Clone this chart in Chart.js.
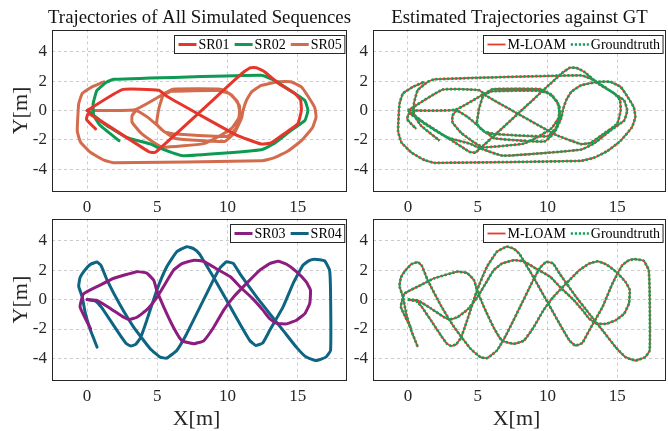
<!DOCTYPE html>
<html><head><meta charset="utf-8">
<script src="https://cdn.jsdelivr.net/npm/chart.js@4/dist/chart.umd.min.js"></script>
<style>
html,body{margin:0;padding:0;background:#fff;}
#wrap{position:relative;width:668px;height:431px;overflow:hidden;}
canvas{position:absolute;left:0;top:0;}
</style></head><body>
<div id="wrap">
<canvas id="c1" width="668" height="431"></canvas>
<canvas id="c2" width="668" height="431"></canvas>
<canvas id="c3" width="668" height="431"></canvas>
<canvas id="c4" width="668" height="431"></canvas>
</div>
<script>
// ---- tick labels ----
const xTicks = [0, 5, 10, 15];
const xTickLabels = ['0', '5', '10', '15'];
const yTicks = [-4, -2, 0, 2, 4];
const yTickLabels = ['-4', '-2', '0', '2', '4'];

// ---- trajectories (x, y in metres) ----
const sr01X = [0, 2.5, 5.1, 5.7, 10.6, 12.4, 13.1, 14.0, 15.0, 15.25, 15.2, 14.8, 13.6, 12.65, 12.05, 11.6, 11.0, 4.85, 4.4, 0.1, -0.05, 0.6];
const sr01Y = [0, 1.42, 1.38, 0.95, -1.65, -2.28, -2.2, -1.6, -0.9, 0, 0.7, 1.15, 1.85, 2.62, 2.9, 2.9, 2.5, -2.85, -2.8, -0.2, -0.6, -1.25];

const sr02X = [0, 0.45, 1.2, 2.8, 4.5, 5.0, 6.8, 12.4, 13.35, 14.5, 15.5, 15.72, 15.5, 14.8, 13.35, 12.4, 1.9, 1.4, 0.7, 0.43, 0.47, 0.94, 2.27];
const sr02Y = [0, -0.3, -0.9, -1.82, -2.27, -2.5, -3.07, -2.66, -2.23, -1.37, -0.68, 0, 0.68, 1.14, 2.05, 2.39, 2.12, 1.93, 1.37, 0.46, -0.34, -1.02, -2.05];

const sr05X = [0, 3.4, 5.5, 6.1, 9.5, 10.3, 10.85, 10.8, 10.3, 9.3, 8.3, 5.4, 4.8, 3.8, 3.2, 3.2, 3.5, 4.3, 5.1, 5.5, 6.3, 10.0, 10.6, 10.9, 10.7, 10.1, 9.3, 6.0, 5.4, 5.1, 4.95, 5.3, 6.3, 9.8, 10.5, 11.0, 11.1, 11.35, 11.7, 12.4, 13.6, 14.5, 15.25, 15.7, 16.2, 16.3, 16.05, 15.25, 14.3, 13.35, 12.4, 1.9, 1.2, 0.25, -0.47, -0.7, -0.6, -0.35, 0.35, 1.2];
const sr05Y = [0, 0.05, 1.15, 1.45, 1.45, 1.05, 0.3, -0.5, -1.2, -1.8, -2.25, -2.5, -2.2, -1.5, -0.8, -0.35, 0, -0.45, -1.1, -1.45, -1.6, -1.75, -1.2, -0.3, 0.6, 1.15, 1.35, 1.3, 1.0, 0.1, -0.9, -1.3, -1.9, -2.1, -1.5, -0.5, 0, 0.7, 1.25, 1.7, 1.95, 1.95, 1.6, 1.0, 0.2, -0.45, -1.15, -2.05, -2.75, -3.2, -3.42, -3.55, -3.37, -2.85, -2.15, -1.4, 0.45, 1.15, 1.6, 1.95];

const sr03X = [0, 0.7, 1.65, 2.6, 3.0, 3.55, 4.3, 5.0, 5.7, 6.15, 6.75, 7.6, 8.3, 9.2, 10.2, 10.9, 11.8, 12.5, 13.0, 13.5, 14.2, 14.9, 15.5, 15.85, 15.9, 15.6, 14.9, 14.2, 13.6, 13.0, 12.3, 11.35, 10.4, 9.7, 9.0, 8.3, 7.6, 6.75, 6.15, 5.45, 4.95, 4.75, 4.25, 3.55, 1.9, 0.95, -0.25, -0.5, 0.25];
const sr03Y = [0, -0.05, -0.6, -1.2, -1.35, -1.2, -0.65, 0.2, 1.3, 2.0, 2.45, 2.68, 2.6, 2.1, 1.55, 0.86, 0.05, -0.7, -1.3, -1.62, -1.65, -1.4, -0.95, -0.25, 0.65, 1.2, 1.9, 2.4, 2.6, 2.45, 2.0, 1.1, 0.15, -0.75, -1.9, -2.8, -3.0, -2.8, -1.9, -0.5, 0.65, 1.3, 1.8, 1.9, 1.45, 1.0, 0.4, -0.5, -2.0];

const sr04X = [0, 0.6, 1.0, 1.65, 2.36, 2.8, 3.1, 3.45, 3.8, 4.25, 4.96, 5.67, 6.38, 7.09, 7.6, 8.0, 8.27, 8.98, 9.93, 10.87, 11.58, 12.0, 12.5, 13.0, 13.95, 14.66, 15.37, 15.8, 16.2, 16.9, 17.26, 17.33, 17.33, 17.0, 16.31, 15.6, 14.89, 13.95, 13.0, 12.06, 10.87, 10.4, 9.93, 9.5, 8.98, 8.04, 7.09, 6.38, 5.67, 5.2, 4.49, 3.31, 2.36, 1.42, 1.0, 0.7, 0.25, -0.2, -0.5, -0.6, -0.35, -0.12, 0.24, 0.71];
const sr04Y = [0, -0.1, -0.5, -1.41, -2.43, -3.0, -3.15, -3.05, -2.6, -1.4, 0.64, 2.23, 3.25, 3.6, 3.45, 3.1, 2.68, 1.55, -0.05, -1.64, -2.78, -3.12, -2.95, -2.09, -0.5, 1.09, 2.34, 2.65, 2.75, 2.64, 2.0, 0.41, -3.46, -3.91, -4.14, -3.91, -3.23, -2.09, -0.96, 0.18, 1.77, 2.46, 2.57, 2.2, 1.32, -0.5, -2.32, -3.46, -3.98, -3.91, -3.34, -1.87, -0.39, 1.32, 2.3, 2.55, 2.4, 1.95, 1.5, 0.91, 0.18, -0.96, -2.09, -3.23];

// ---- styling ----
const SERIF = "'Liberation Serif','Times New Roman',Times,serif";
const C = {sr01:'#e6352b', sr02:'#0e9a52', sr05:'#d36c4c', sr03:'#8c1c80', sr04:'#0d6483', est:'#e8382c', gt:'#12a158'};
const GT_DASH = [2.2, 1.8];

function pts(xs, ys) { return xs.map((x, i) => ({x: x, y: ys[i]})); }
function thick(xs, ys, color) {
  return {data: pts(xs, ys), showLine: true, borderColor: color, borderWidth: 3, pointRadius: 0,
          tension: 0.12, borderCapStyle: 'round', borderJoinStyle: 'round', fill: false};
}
function est(xs, ys) {
  return {data: pts(xs, ys), showLine: true, borderColor: C.est, borderWidth: 1.8, pointRadius: 0,
          tension: 0.12, borderJoinStyle: 'round', fill: false};
}
function gt(xs, ys) {
  return {data: pts(xs, ys), showLine: true, borderColor: C.gt, borderWidth: 2.7, borderDash: GT_DASH, pointRadius: 0,
          tension: 0.12, borderCapStyle: 'butt', fill: false};
}

const decor = {
  id: 'decor',
  afterDraw(chart, args, o) {
    const ctx = chart.ctx, a = chart.chartArea;
    ctx.save();
    // box
    ctx.strokeStyle = '#262626'; ctx.lineWidth = 1; ctx.setLineDash([]);
    ctx.strokeRect(Math.round(a.left) + 0.5, Math.round(a.top) + 0.5,
                   Math.round(a.right) - Math.round(a.left) - 1, Math.round(a.bottom) - Math.round(a.top) - 1);
    ctx.fillStyle = '#111';
    if (o.title) {
      ctx.font = '18.8px ' + SERIF; ctx.textAlign = 'center'; ctx.textBaseline = 'alphabetic';
      ctx.fillText(o.title, (a.left + a.right) / 2, a.top - 6.3);
    }
    if (o.ylabel) {
      ctx.save();
      ctx.font = '22px ' + SERIF; ctx.textAlign = 'center'; ctx.textBaseline = 'alphabetic';
      ctx.translate(27, (a.top + a.bottom) / 2);
      ctx.rotate(-Math.PI / 2);
      ctx.fillStyle = '#262626';
      ctx.fillText(o.ylabel, 0, 0);
      ctx.restore();
    }
    if (o.xlabel) {
      ctx.font = '22px ' + SERIF; ctx.textAlign = 'center'; ctx.textBaseline = 'alphabetic';
      ctx.fillStyle = '#262626';
      ctx.fillText(o.xlabel, (a.left + a.right) / 2 - 3, 425);
    }
    if (o.legend) {
      ctx.font = '14px ' + SERIF;
      const lineLen = 18, gapLT = 2, gapE = 5, padL = 4, padR = 3, bh = 18;
      const widths = o.legend.map(e => ctx.measureText(e.label).width);
      let w = padL + padR + gapE * (o.legend.length - 1);
      widths.forEach(tw => { w += lineLen + gapLT + tw; });
      const bx = Math.round(a.right - 3 - w) + 0.5, by = Math.round(a.top + 5) + 0.5;
      ctx.fillStyle = '#fff';
      ctx.fillRect(bx, by, w, bh);
      ctx.strokeStyle = '#262626'; ctx.lineWidth = 1;
      ctx.strokeRect(bx, by, w, bh);
      let x = bx + padL; const cy = by + bh / 2;
      o.legend.forEach((e, i) => {
        ctx.beginPath();
        ctx.strokeStyle = e.color; ctx.lineWidth = e.width;
        ctx.setLineDash(e.dash || []);
        ctx.moveTo(x, cy); ctx.lineTo(x + lineLen, cy); ctx.stroke();
        ctx.setLineDash([]);
        ctx.fillStyle = '#000'; ctx.textAlign = 'left'; ctx.textBaseline = 'middle';
        ctx.fillText(e.label, x + lineLen + gapLT, cy + 0.5);
        x += lineLen + gapLT + widths[i] + gapE;
      });
    }
    ctx.restore();
  }
};

function scales() {
  const tickFont = {family: SERIF, size: 17};
  const grid = {color: 'rgba(0,0,0,0.2)', lineWidth: 1, drawTicks: false};
  return {
    x: {type: 'linear', position: 'bottom', min: -2.5, max: 18.5,
        afterBuildTicks: s => { s.ticks = xTicks.map(v => ({value: v})); },
        afterFit: s => { s.height = 30; },
        ticks: {padding: 6, color: '#262626', font: tickFont, autoSkip: false, maxRotation: 0,
                callback: (v, i) => xTickLabels[i]},
        grid: grid, border: {display: false, dash: [3, 3]}},
    y: {type: 'linear', position: 'left', min: -5.5, max: 5.5,
        afterBuildTicks: s => { s.ticks = yTicks.map(v => ({value: v})); },
        afterFit: s => { s.width = 40; },
        ticks: {padding: 5, color: '#262626', font: tickFont, autoSkip: false,
                callback: (v, i) => yTickLabels[i]},
        grid: grid, border: {display: false, dash: [3, 3]}}
  };
}

function make(id, box, datasets, deco) {
  return new Chart(document.getElementById(id), {
    type: 'scatter',
    data: {datasets: datasets},
    options: {
      responsive: false, animation: false, devicePixelRatio: 1,
      layout: {padding: {left: box.left - 40, top: box.top, right: 668 - box.right, bottom: 431 - box.bottom - 30}},
      plugins: {legend: {display: false}, tooltip: {enabled: false}, decor: deco},
      scales: scales(),
      elements: {line: {capBezierPoints: true}}
    },
    plugins: [decor]
  });
}

const legEst = [
  {label: 'M-LOAM', color: C.est, width: 1.8},
  {label: 'Groundtruth', color: C.gt, width: 2.7, dash: GT_DASH}
];

make('c1', {left: 52, top: 29.5, right: 347, bottom: 191.5},
  [thick(sr01X, sr01Y, C.sr01), thick(sr02X, sr02Y, C.sr02), thick(sr05X, sr05Y, C.sr05)],
  {title: 'Trajectories of All Simulated Sequences', ylabel: 'Y[m]',
   legend: [{label: 'SR01', color: C.sr01, width: 3}, {label: 'SR02', color: C.sr02, width: 3}, {label: 'SR05', color: C.sr05, width: 3}]});

// ground truth datasets listed first so they are drawn over the estimate
make('c2', {left: 373, top: 29.5, right: 666, bottom: 191.5},
  [gt(sr01X, sr01Y), gt(sr02X, sr02Y), gt(sr05X, sr05Y), est(sr01X, sr01Y), est(sr02X, sr02Y), est(sr05X, sr05Y)],
  {title: 'Estimated Trajectories against GT', legend: legEst});

make('c3', {left: 52, top: 218.7, right: 347, bottom: 380.5},
  [thick(sr03X, sr03Y, C.sr03), thick(sr04X, sr04Y, C.sr04)],
  {ylabel: 'Y[m]', xlabel: 'X[m]',
   legend: [{label: 'SR03', color: C.sr03, width: 3}, {label: 'SR04', color: C.sr04, width: 3}]});

make('c4', {left: 373, top: 218.7, right: 666, bottom: 380.5},
  [gt(sr03X, sr03Y), gt(sr04X, sr04Y), est(sr03X, sr03Y), est(sr04X, sr04Y)],
  {xlabel: 'X[m]', legend: legEst});
</script>
</body></html>
